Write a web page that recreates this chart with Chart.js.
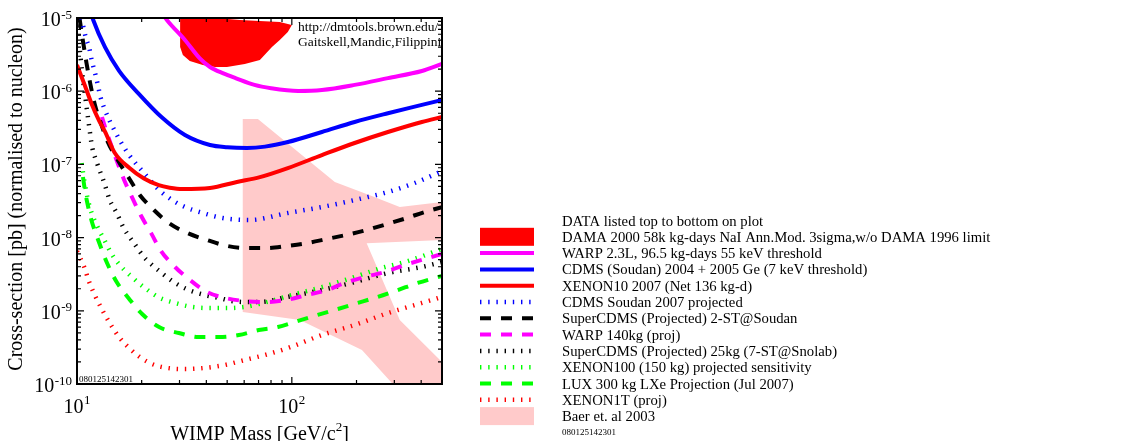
<!DOCTYPE html>
<html>
<head>
<meta charset="utf-8">
<title>WIMP-nucleon cross-section limits</title>
<script src="https://cdn.jsdelivr.net/npm/chart.js@4.4.1/dist/chart.umd.min.js"></script>
<style>
  html, body { margin: 0; padding: 0; background: #fff; overflow: hidden; }
  canvas { display: block; }
</style>
</head>
<body>
<canvas id="limits" width="1139" height="441"></canvas>
<script>
// ---- data: [WIMP mass (GeV/c^2), cross-section (pb)] ----
const damaRegion = [[30.2,1.13e-5],[30.2,4.02e-6],[31.1,3.13e-6],[33.5,2.59e-6],[38.5,2.28e-6],[43.9,2.14e-6],[49.9,2.14e-6],[60.4,2.36e-6],[71.0,2.67e-6],[80.8,4.02e-6],[87.9,5.0e-6],[95.8,6.44e-6],[100,8.02e-6],[87.9,8.82e-6],[57.3,9.39e-6],[39.4,1.03e-5],[33.5,1.29e-5]];
const warp23L = [[24,1.35e-5],[26.2,9.4e-6],[31.8,5.0e-6],[37.3,2.8e-6],[41.6,2.14e-6],[48,1.75e-6],[55,1.5e-6],[67,1.22e-6],[80,1.1e-6],[107,1.01e-6],[138,1.04e-6],[196,1.22e-6],[280,1.51e-6],[403,1.89e-6],[500,2.36e-6]];
const cdms0405 = [[11.5,1.3e-5],[11.9,9.4e-6],[13.5,4.0e-6],[15.7,1.9e-6],[19.4,9.2e-7],[24.8,4.4e-7],[31.8,2.52e-7],[41.6,1.84e-7],[50,1.72e-7],[61.8,1.68e-7],[75,1.75e-7],[95.8,2.02e-7],[138,2.77e-7],[196,3.8e-7],[280,5.0e-7],[403,6.5e-7],[500,7.6e-7]];
const xenon10 = [[10,2.28e-6],[10.9,1.18e-6],[11.7,6.7e-7],[12.7,3.9e-7],[13.5,2.8e-7],[15.0,1.43e-7],[17.5,9.0e-8],[20.5,6.4e-8],[24,5.2e-8],[27,4.8e-8],[31,4.6e-8],[41.6,4.76e-8],[55.5,5.75e-8],[71,6.7e-8],[95.8,8.9e-8],[138,1.34e-7],[196,1.96e-7],[280,2.77e-7],[403,3.8e-7],[500,4.44e-7]];
const cdms2007Proj = [[10.49,1.0e-5],[11.0,5.33e-6],[11.4,3.89e-6],[11.7,2.67e-6],[12.1,1.83e-6],[12.5,1.22e-6],[12.9,8.07e-7],[13.5,5.53e-7],[14.2,3.92e-7],[15.0,2.86e-7],[15.8,2.15e-7],[17.5,1.34e-7],[20.5,7.63e-8],[24.1,4.47e-8],[27.7,3.26e-8],[31.8,2.62e-8],[38.5,2.17e-8],[47.7,1.85e-8],[63.8,1.74e-8],[95.8,2.17e-8],[138,2.62e-8],[196,3.26e-8],[280,4.2e-8],[373,5.57e-8],[500,8.1e-8]];
const superCdmsSoudan = [[10.27,1.0e-5],[10.66,4.85e-6],[11.07,2.43e-6],[11.56,1.22e-6],[12.12,6.48e-7],[12.86,3.8e-7],[13.79,2.15e-7],[15.67,1.08e-7],[17.44,6.52e-8],[19.6,3.82e-8],[22.8,2.38e-8],[26.8,1.58e-8],[32.5,1.16e-8],[40.3,9.27e-9],[49.9,7.7e-9],[61.8,7.2e-9],[76.6,7.2e-9],[94.8,7.7e-9],[117,8.4e-9],[146,9.6e-9],[180,1.09e-8],[223,1.27e-8],[277,1.53e-8],[343,1.85e-8],[416,2.24e-8],[500,2.6e-8]];
const warp140kg = [[13.07,4.44e-7],[13.6,3.05e-7],[14.2,2.09e-7],[15.2,1.19e-7],[16.5,6.32e-8],[18.0,3.59e-8],[19.9,1.97e-8],[22.1,1.16e-8],[24.6,6.57e-9],[28.6,3.97e-9],[33.5,2.64e-9],[40.2,1.81e-9],[48.8,1.5e-9],[60.4,1.36e-9],[76.5,1.32e-9],[94.8,1.41e-9],[117,1.64e-9],[146,1.92e-9],[176,2.4e-9],[219,2.9e-9],[271,3.39e-9],[336,4.23e-9],[416,5.1e-9],[500,5.97e-9]];
const superCdmsSnolab = [[10.11,1.0e-5],[10.22,5.0e-6],[10.44,2.51e-6],[10.66,1.42e-6],[10.9,8.87e-7],[11.13,5.53e-7],[11.37,3.45e-7],[11.74,1.78e-7],[12.4,1.04e-7],[13.4,5.57e-8],[14.2,3.26e-8],[15.3,2.17e-8],[16.5,1.35e-8],[18.4,8.43e-9],[20.5,5.43e-9],[21.6,4.64e-9],[24.8,3.28e-9],[28.6,2.4e-9],[33.2,1.92e-9],[39.4,1.64e-9],[45.8,1.5e-9],[52.6,1.36e-9],[60.4,1.32e-9],[71.0,1.32e-9],[95.8,1.55e-9],[138,1.92e-9],[196,2.47e-9],[280,3.28e-9],[403,3.97e-9],[500,4.64e-9]];
const xenon100 = [[10.5,1.04e-7],[10.9,5.23e-8],[11.25,3.26e-8],[11.7,2.17e-8],[12.4,1.44e-8],[13.4,9.27e-9],[14.5,5.97e-9],[15.8,4.23e-9],[18.0,2.9e-9],[20.7,2.05e-9],[24.3,1.5e-9],[28.6,1.28e-9],[34.3,1.13e-9],[42.5,1.09e-9],[50.9,1.09e-9],[60.4,1.13e-9],[70.2,1.24e-9],[83.4,1.41e-9],[95.8,1.59e-9],[138,2.11e-9],[196,2.9e-9],[262,3.85e-9],[336,4.64e-9],[500,6.98e-9]];
const lux300 = [[10.66,6.73e-8],[10.9,4.33e-8],[11.25,2.7e-8],[11.7,1.69e-8],[12.26,1.12e-8],[12.8,7.92e-9],[13.8,4.5e-9],[15.3,2.47e-9],[17.5,1.45e-9],[20.1,9.04e-10],[24.1,6.0e-10],[29.8,4.98e-10],[36.9,4.38e-10],[45.8,4.38e-10],[56.7,4.67e-10],[70.2,5.47e-10],[86.1,6.0e-10],[107,7.3e-10],[132,8.8e-10],[164,1.06e-9],[203,1.28e-9],[251,1.55e-9],[311,1.92e-9],[385,2.4e-9],[500,2.99e-9]];
const xenon1T = [[10,6.5e-9],[10.8,3.97e-9],[11.4,2.47e-9],[12.1,1.64e-9],[13.1,1.03e-9],[14.2,6.8e-10],[15.7,4.38e-10],[17.5,3.1e-10],[19.6,2.34e-10],[22.3,1.88e-10],[26.2,1.66e-10],[31.8,1.6e-10],[39.4,1.66e-10],[48.8,1.82e-10],[60.4,2.13e-10],[74.9,2.49e-10],[95.8,3.1e-10],[138,4.67e-10],[196,6.4e-10],[280,9.3e-10],[403,1.28e-9],[500,1.55e-9]];
const baer2003 = [[59.1,4.17e-7],[69.5,4.17e-7],[158.5,5.75e-8],[235.5,3.7e-8],[318,2.62e-8],[500,3.06e-8],[500,9.3e-9],[223,8.4e-9],[318,7.5e-10],[500,2.0e-10],[500,1.0e-10],[295,1.0e-10],[212,2.91e-10],[109,7.5e-10],[59.1,9.6e-10]];

// ---- axis range and tick labels ----
const xMin = 10, xMax = 500, yMin = 1e-10, yMax = 1e-5;
const xTickExps = [1, 2];
const yTickExps = [-5, -6, -7, -8, -9, -10];

// ---- text ----
const xTitle = ['WIMP Mass [GeV/c', '2', ']'];
const yTitle = 'Cross-section [pb] (normalised to nucleon)';
const creditLines = ['http://dmtools.brown.edu/', 'Gaitskell,Mandic,Filippini'];
const plotStamp = '080125142301';
const legendHeader = 'DATA listed top to bottom on plot';

// ---- series, in legend order ----
const series = [
  { label: 'DAMA 2000 58k kg-days NaI Ann.Mod. 3sigma,w/o DAMA 1996 limit', data: damaRegion, kind: 'region', color: '#ff0000' },
  { label: 'WARP 2.3L, 96.5 kg-days 55 keV threshold', data: warp23L, kind: 'solid', color: '#ff00ff' },
  { label: 'CDMS (Soudan) 2004 + 2005 Ge (7 keV threshold)', data: cdms0405, kind: 'solid', color: '#0000ff' },
  { label: 'XENON10 2007 (Net 136 kg-d)', data: xenon10, kind: 'solid', color: '#ff0000' },
  { label: 'CDMS Soudan 2007 projected', data: cdms2007Proj, kind: 'dotted', color: '#0000ff' },
  { label: 'SuperCDMS (Projected) 2-ST@Soudan', data: superCdmsSoudan, kind: 'dashed', color: '#000000' },
  { label: 'WARP 140kg (proj)', data: warp140kg, kind: 'dashed', color: '#ff00ff' },
  { label: 'SuperCDMS (Projected) 25kg (7-ST@Snolab)', data: superCdmsSnolab, kind: 'dotted', color: '#000000' },
  { label: 'XENON100 (150 kg) projected sensitivity', data: xenon100, kind: 'dotted', color: '#00ff00' },
  { label: 'LUX 300 kg LXe Projection (Jul 2007)', data: lux300, kind: 'dashed', color: '#00ff00' },
  { label: 'XENON1T (proj)', data: xenon1T, kind: 'dotted', color: '#ff0000' },
  { label: 'Baer et. al 2003', data: baer2003, kind: 'region', color: '#ffcaca' }
];

const lineStyles = {
  solid:  { width: 4,   dash: [] },
  dashed: { width: 4,   dash: [11, 10] },
  dotted: { width: 4.5, dash: [1.4, 6.8] }
};

const SERIF = '"Liberation Serif", "Times New Roman", serif';

const datasets = series.map(s => {
  const pts = s.data.map(([m, sig]) => ({ x: m, y: sig }));
  if (s.kind === 'region') {
    return {
      label: s.label, data: pts, showLine: true, fill: 'shape',
      backgroundColor: s.color, borderWidth: 0, pointRadius: 0,
      tension: 0, order: 10
    };
  }
  const st = lineStyles[s.kind];
  return {
    label: s.label, data: pts, showLine: true, fill: false,
    borderColor: s.color, borderWidth: st.width, borderDash: st.dash,
    borderCapStyle: 'butt', pointRadius: 0,
    cubicInterpolationMode: 'monotone', order: 0
  };
});

// "10" with a raised exponent
function drawPower(ctx, exp, xLeft, baseY, supY) {
  ctx.font = '20px ' + SERIF;
  ctx.fillText('10', xLeft, baseY);
  const w = ctx.measureText('10').width;
  ctx.font = '13px ' + SERIF;
  ctx.fillText(String(exp), xLeft + w + 0.5, supY);
}
function powerWidth(ctx, exp) {
  ctx.font = '20px ' + SERIF;
  const w1 = ctx.measureText('10').width;
  ctx.font = '13px ' + SERIF;
  return w1 + 0.5 + ctx.measureText(String(exp)).width;
}

const decorations = {
  id: 'decorations',
  afterDatasetsDraw(chart) {
    const { ctx, chartArea: a } = chart;
    const xs = chart.scales.x, ys = chart.scales.y;

    // credits and stamp, clipped to the plot frame
    ctx.save();
    ctx.beginPath();
    ctx.rect(a.left, a.top, a.right - a.left, a.bottom - a.top);
    ctx.clip();
    ctx.fillStyle = '#000';
    ctx.textAlign = 'left';
    ctx.textBaseline = 'alphabetic';
    ctx.font = '13.5px ' + SERIF;
    creditLines.forEach((t, i) => ctx.fillText(t, 298, 30.5 + i * 15));
    ctx.font = '9px ' + SERIF;
    ctx.fillText(plotStamp, a.left + 2, a.bottom - 2);
    ctx.restore();

    // inward tick marks on all four sides
    ctx.save();
    ctx.strokeStyle = '#000';
    ctx.lineWidth = 1.2;
    ctx.beginPath();
    for (let d = 1; d <= 2; d++) {
      for (let k = 1; k <= 9; k++) {
        const v = k * Math.pow(10, d);
        if (v < xMin || v > xMax) continue;
        const px = xs.getPixelForValue(v);
        const len = k === 1 ? 7 : 4;
        ctx.moveTo(px, a.bottom); ctx.lineTo(px, a.bottom - len);
        ctx.moveTo(px, a.top); ctx.lineTo(px, a.top + len);
      }
    }
    for (let d = -10; d <= -5; d++) {
      for (let k = 1; k <= 9; k++) {
        const v = k * Math.pow(10, d);
        if (v < yMin * 0.999 || v > yMax * 1.001) continue;
        const py = ys.getPixelForValue(v);
        const len = k === 1 ? 7 : 4;
        ctx.moveTo(a.left, py); ctx.lineTo(a.left + len, py);
        ctx.moveTo(a.right, py); ctx.lineTo(a.right - len, py);
      }
    }
    ctx.stroke();
    ctx.lineWidth = 2;
    ctx.strokeRect(a.left, a.top, a.right - a.left, a.bottom - a.top);
    ctx.restore();
  },
  afterDraw(chart) {
    const { ctx, chartArea: a } = chart;
    const xs = chart.scales.x, ys = chart.scales.y;
    ctx.save();
    ctx.fillStyle = '#000';
    ctx.textAlign = 'left';
    ctx.textBaseline = 'alphabetic';

    // tick labels
    yTickExps.forEach(e => {
      const py = ys.getPixelForValue(Math.pow(10, e));
      const w = powerWidth(ctx, e);
      drawPower(ctx, e, 72 - w, py + 8, py + 0.5);
    });
    xTickExps.forEach(e => {
      const px = xs.getPixelForValue(Math.pow(10, e));
      const w = powerWidth(ctx, e);
      drawPower(ctx, e, px - w / 2, 413, 404);
    });

    // x title with superscript
    ctx.font = '20px ' + SERIF;
    const w0 = ctx.measureText(xTitle[0]).width;
    const w2 = ctx.measureText(xTitle[2]).width;
    ctx.font = '13px ' + SERIF;
    const w1 = ctx.measureText(xTitle[1]).width;
    const cx = (a.left + a.right) / 2;
    const tx = cx - (w0 + w1 + w2) / 2;
    ctx.font = '20px ' + SERIF;
    ctx.fillText(xTitle[0], tx, 440);
    ctx.font = '13px ' + SERIF;
    ctx.fillText(xTitle[1], tx + w0, 431);
    ctx.font = '20px ' + SERIF;
    ctx.fillText(xTitle[2], tx + w0 + w1, 440);

    // y title
    ctx.save();
    ctx.translate(22, (a.top + a.bottom) / 2 - 2);
    ctx.rotate(-Math.PI / 2);
    ctx.textAlign = 'center';
    ctx.font = '20px ' + SERIF;
    ctx.fillText(yTitle, 0, 0);
    ctx.restore();

    // legend
    const sx0 = 480, sx1 = 534, textX = 562, rowTop = 220.5, rowStep = 16.3;
    const legendFont = '14.7px ' + SERIF;
    ctx.font = legendFont;
    ctx.fillText(legendHeader, textX, rowTop + 5);
    series.forEach((s, i) => {
      const cy = rowTop + (i + 1) * rowStep;
      if (s.kind === 'region') {
        ctx.fillStyle = s.color;
        ctx.fillRect(sx0, cy - 9, sx1 - sx0, 18);
      } else {
        const st = lineStyles[s.kind];
        ctx.save();
        ctx.strokeStyle = s.color;
        ctx.lineWidth = st.width;
        ctx.lineCap = 'butt';
        ctx.setLineDash(st.dash);
        ctx.beginPath();
        ctx.moveTo(sx0, cy);
        ctx.lineTo(sx1, cy);
        ctx.stroke();
        ctx.restore();
      }
      ctx.fillStyle = '#000';
      ctx.font = legendFont;
      ctx.fillText(s.label, textX, cy + 5);
    });
    ctx.font = '9px ' + SERIF;
    ctx.fillText(plotStamp, textX, rowTop + (series.length + 1) * rowStep + 3);
    ctx.restore();
  }
};

new Chart(document.getElementById('limits'), {
  type: 'scatter',
  data: { datasets },
  options: {
    responsive: false,
    animation: false,
    devicePixelRatio: 1,
    events: [],
    layout: { padding: { left: 77, top: 18, right: 697, bottom: 57 } },
    scales: {
      x: { type: 'logarithmic', min: xMin, max: xMax, display: false },
      y: { type: 'logarithmic', min: yMin, max: yMax, display: false }
    },
    plugins: {
      legend: { display: false },
      tooltip: { enabled: false }
    }
  },
  plugins: [decorations]
});
</script>
</body>
</html>
